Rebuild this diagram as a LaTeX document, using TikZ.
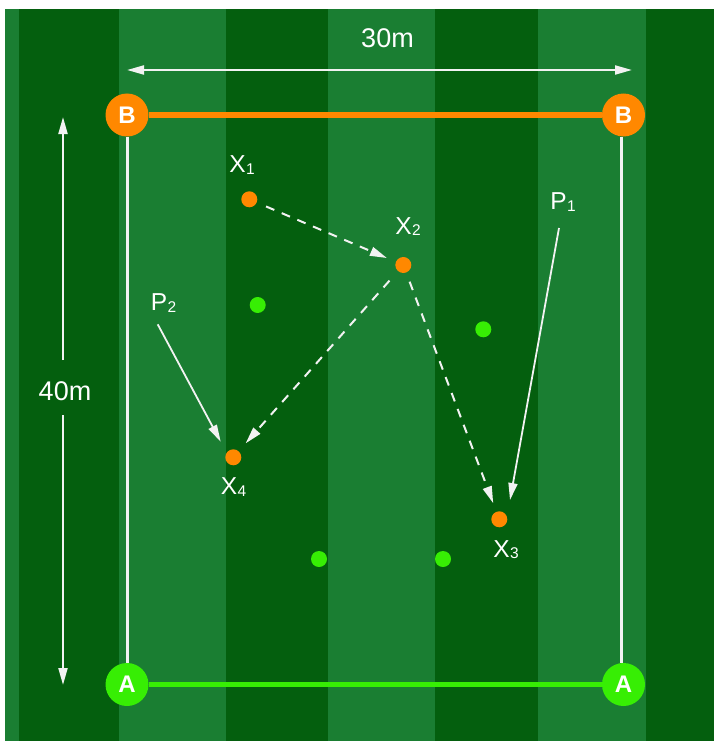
\documentclass[tikz,border=0pt]{standalone}
\usepackage{fontspec}
\setmainfont{Liberation Sans}
\usetikzlibrary{arrows.meta}
\definecolor{lightstripe}{RGB}{26,126,50}
\definecolor{darkstripe}{RGB}{4,95,14}
\definecolor{orangec}{RGB}{255,136,0}
\definecolor{greenc}{RGB}{55,238,4}
\definecolor{linec}{RGB}{242,242,242}
\newcommand\xlab[2]{{\fontsize{24.5}{24.5}\selectfont #1}\kern0.3pt{\fontsize{15.5}{15.5}\selectfont\raisebox{-1.2pt}{#2}}}
\begin{document}
\begin{tikzpicture}[x=1pt,y=-1pt,
  corner/.style={circle, minimum size=43pt, inner sep=0pt, text=white, font=\fontsize{24}{24}\selectfont\bfseries},
  ocorner/.style={corner, fill=orangec},
  gcorner/.style={corner, fill=greenc},
  odot/.style={circle, fill=orangec, minimum size=16pt, inner sep=0pt},
  gdot/.style={circle, fill=greenc, minimum size=16pt, inner sep=0pt},
  lab/.style={text=white, inner sep=0pt},
  dimlab/.style={lab, font=\fontsize{27}{27}\selectfont},
  dimline/.style={draw=linec, line width=2pt},
  tiptri/.style={-{Triangle[length=17pt,width=9pt]}},
  pass/.style={draw=linec, line width=2pt, dash pattern=on 9pt off 8pt, tiptri},
  run/.style={draw=linec, line width=1.8pt, tiptri},
  fieldline/.style={draw=linec, line width=3.5pt}
]
\useasboundingbox (0,0) rectangle (714,741);
\fill[white] (0,0) rectangle (714,741);
\fill[lightstripe] (5,9) rectangle (714,741);
\foreach \a/\b in {19/119, 225.5/328, 435/538, 645.7/714}
  \fill[darkstripe] (\a,9) rectangle (\b,741);

% dimensions
\coordinate (ht1) at (127,70);
\coordinate (ht2) at (632,70);
\draw[dimline, {Triangle[length=17pt,width=9pt]}-{Triangle[length=17pt,width=9pt]}] (ht1) -- (ht2);
\node[dimlab] (d30) at (387.5,38) {30m};
\coordinate (vt) at (63,117);
\coordinate (vg1) at (63,360);
\coordinate (vg2) at (63,415);
\coordinate (vb) at (63,685);
\draw[dimline, tiptri] (vg1) -- (vt);
\draw[dimline, tiptri] (vg2) -- (vb);
\node[dimlab] (d40) at (65,391.5) {40m};

% corners
\node[ocorner] (Btl) at (127,115) {B};
\node[ocorner] (Btr) at (623.5,115) {B};
\node[gcorner] (Atl) at (127,684.5) {A};
\node[gcorner] (Atr) at (623.5,684.5) {A};
\draw[fieldline] ([xshift=0.5pt]Btl.south) -- ([xshift=0.5pt]Atl.north);
\draw[fieldline] ([xshift=-2pt]Btr.south) -- ([xshift=-2pt]Atr.north);
\draw[orangec, line width=5.5pt] (Btl) -- (Btr);
\draw[greenc, line width=5.5pt] (Atl) -- (Atr);

% players
\node[odot] (X1d) at (249.3,199.3) {};
\node[odot] (X2d) at (403.3,265) {};
\node[odot] (X3d) at (499.3,519.3) {};
\node[odot] (X4d) at (233.3,457.3) {};
\node[gdot] (g1) at (257.7,305) {};
\node[gdot] (g2) at (483.3,329.3) {};
\node[gdot] (g3) at (319,559) {};
\node[gdot] (g4) at (443,559) {};

% labels
\node[lab] (X1) at (242,165) {\xlab{X}{1}};
\node[lab] (X2) at (408,226.5) {\xlab{X}{2}};
\node[lab] (X3) at (506,549.5) {\xlab{X}{3}};
\node[lab] (X4) at (233.5,487) {\xlab{X}{4}};
\node[lab] (P1) at (563,202) {\xlab{P}{1}};
\node[lab] (P2) at (163.5,303) {\xlab{P}{2}};

% passes
\draw[pass, shorten <=10pt, shorten >=9.6pt] (X1d) -- (X2d);
\draw[pass, shorten <=12.7pt, shorten >=10.4pt] (X2d) -- (X4d);
\draw[pass, shorten <=9.6pt, shorten >=9pt] (X2d) -- (X3d);

% runs
\coordinate (p1a) at (559,228);
\coordinate (p1b) at (510,500);
\coordinate (p2a) at (157.7,324.3);
\coordinate (p2b) at (220.7,441.7);
\draw[run] (p1a) -- (p1b);
\draw[run] (p2a) -- (p2b);
\end{tikzpicture}
\end{document}
